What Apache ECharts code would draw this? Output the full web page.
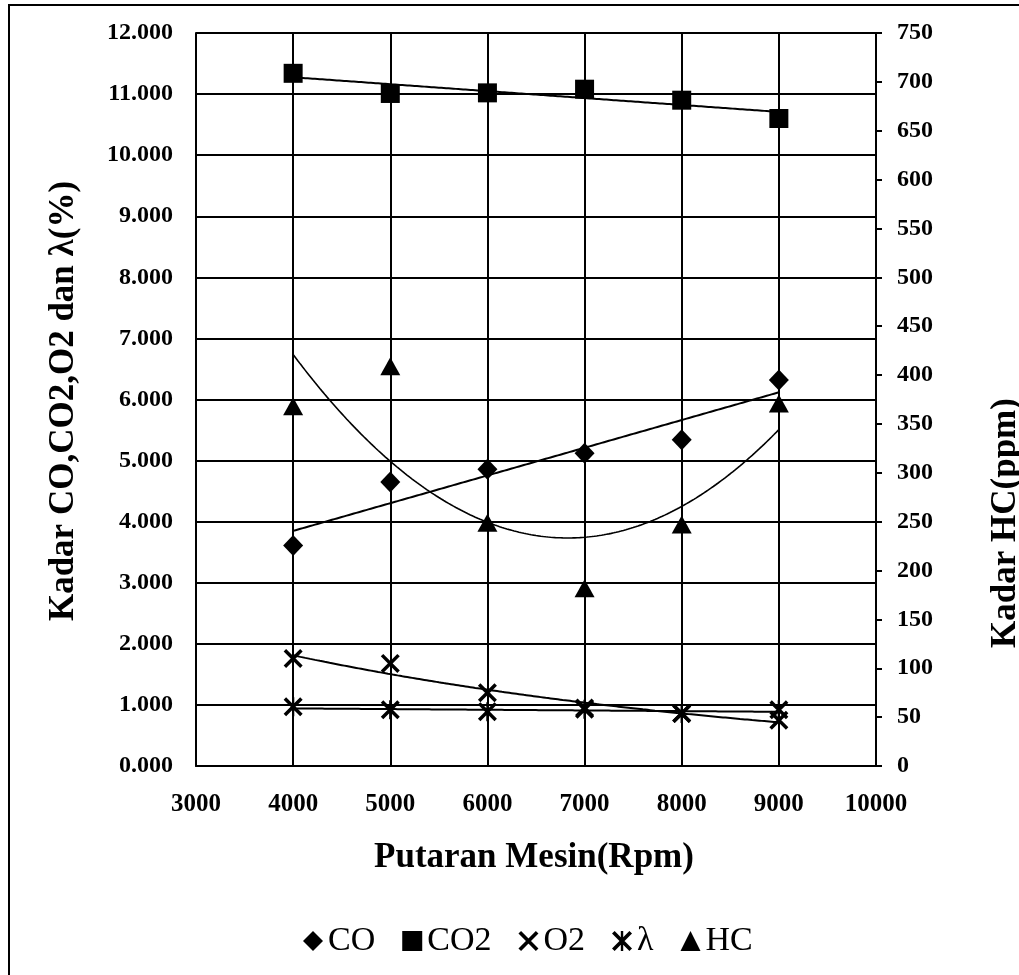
<!DOCTYPE html>
<html>
<head>
<meta charset="utf-8">
<script src="https://cdn.jsdelivr.net/npm/echarts@6/dist/echarts.min.js"></script>
<style>
  html, body { margin: 0; padding: 0; background: #fff; }
  #chart { width: 1019px; height: 975px; }
</style>
</head>
<body>
<div id="chart"></div>
<script>
// ---- data ----
const rpm = [4000, 5000, 6000, 7000, 8000, 9000];
const coValues = [3.61, 4.65, 4.86, 5.12, 5.34, 6.32];
const co2Values = [11.34, 11.01, 11.02, 11.08, 10.90, 10.60];
const o2Values = [1.76, 1.68, 1.20, 0.95, 0.86, 0.75];
const lambdaValues = [0.97, 0.92, 0.89, 0.93, 0.86, 0.92];
const hcValues = [368, 409, 249, 182, 247, 371];

const seriesNames = ['CO', 'CO2', 'O2', 'λ', 'HC'];
const xRange = [3000, 10000, 1000];
const leftRange = [0, 12, 1];
const rightRange = [0, 750, 50];
const xTitle = 'Putaran Mesin(Rpm)';
const leftTitle = 'Kadar CO,CO2,O2 dan λ(%)';
const rightTitle = 'Kadar HC(ppm)';

// ---- Excel-style trendlines, fitted to the data above ----
function linFit(xs, ys) {
  const n = xs.length;
  const mx = xs.reduce((a, b) => a + b, 0) / n;
  const my = ys.reduce((a, b) => a + b, 0) / n;
  let sxy = 0, sxx = 0;
  for (let i = 0; i < n; i++) { sxy += (xs[i] - mx) * (ys[i] - my); sxx += (xs[i] - mx) * (xs[i] - mx); }
  const s = sxy / sxx;
  return x => my + s * (x - mx);
}
function expFit(xs, ys) {
  const f = linFit(xs, ys.map(Math.log));
  return x => Math.exp(f(x));
}
function quadFit(xs, ys) {
  const n = xs.length;
  const mx = xs.reduce((a, b) => a + b, 0) / n;
  const t = xs.map(x => (x - mx) / 1000);
  const S = k => t.reduce((a, v) => a + Math.pow(v, k), 0);
  const T = k => t.reduce((a, v, i) => a + Math.pow(v, k) * ys[i], 0);
  const A = [[n, S(1), S(2), T(0)], [S(1), S(2), S(3), T(1)], [S(2), S(3), S(4), T(2)]];
  for (let c = 0; c < 3; c++) {
    for (let r = c + 1; r < 3; r++) {
      const f = A[r][c] / A[c][c];
      for (let k = c; k < 4; k++) A[r][k] -= f * A[c][k];
    }
  }
  const coef = [0, 0, 0];
  for (let r = 2; r >= 0; r--) {
    let s = A[r][3];
    for (let k = r + 1; k < 3; k++) s -= A[r][k] * coef[k];
    coef[r] = s / A[r][r];
  }
  return x => { const u = (x - mx) / 1000; return coef[0] + coef[1] * u + coef[2] * u * u; };
}
function sampleFn(fn) {
  const out = [];
  const x0 = rpm[0], x1 = rpm[rpm.length - 1];
  for (let x = x0; x <= x1 + 1e-9; x += 25) out.push([x, fn(x)]);
  return out;
}
const pair = ys => rpm.map((x, i) => [x, ys[i]]);

const xPath = 'path://M0,1.3L1.3,0L10,8.7L8.7,10Z M8.7,0L10,1.3L1.3,10L0,8.7Z';
const starPath = 'path://M0,1.3L1.3,0L10,8.7L8.7,10Z M8.7,0L10,1.3L1.3,10L0,8.7Z M4.4,0L5.6,0L5.6,10L4.4,10Z';

const FONT = '"Liberation Serif", "Times New Roman", serif';
const black = '#000';

const chart = echarts.init(document.getElementById('chart'), null, { renderer: 'canvas' });

const trendStyle = (w) => ({ color: black, width: w });

chart.setOption({
  animation: false,
  backgroundColor: '#fff',
  grid: { left: 196, right: 143, top: 33, bottom: 209, containLabel: false },
  xAxis: {
    type: 'value', min: xRange[0], max: xRange[1], interval: xRange[2],
    axisLine: { show: true, lineStyle: { color: black, width: 2 } },
    axisTick: { show: false },
    splitLine: { show: true, lineStyle: { color: black, width: 2 } },
    axisLabel: { color: black, fontFamily: FONT, fontWeight: 'bold', fontSize: 25, margin: 26,
      formatter: v => String(v) }
  },
  yAxis: [
    {
      type: 'value', min: leftRange[0], max: leftRange[1], interval: leftRange[2],
      axisLine: { show: true, lineStyle: { color: black, width: 2 } },
      axisTick: { show: false },
      splitLine: { show: true, lineStyle: { color: black, width: 2 } },
      axisLabel: { color: black, fontFamily: FONT, fontWeight: 'bold', fontSize: 24, margin: 23,
        formatter: v => v.toFixed(3) }
    },
    {
      type: 'value', position: 'right', min: rightRange[0], max: rightRange[1], interval: rightRange[2],
      axisLine: { show: true, lineStyle: { color: black, width: 2 } },
      axisTick: { show: true, inside: false, length: 6, lineStyle: { color: black, width: 2 } },
      splitLine: { show: false },
      axisLabel: { color: black, fontFamily: FONT, fontWeight: 'bold', fontSize: 24, margin: 21 }
    }
  ],
  legend: {
    data: [
      { name: seriesNames[0], icon: 'diamond' },
      { name: seriesNames[1], icon: 'rect' },
      { name: seriesNames[2], icon: xPath },
      { name: seriesNames[3], icon: starPath },
      { name: seriesNames[4], icon: 'triangle' }
    ],
    left: 298, top: 919, orient: 'horizontal',
    itemWidth: 20, itemHeight: 20, itemGap: 27,
    textStyle: { color: black, fontFamily: FONT, fontSize: 34 },
    selectedMode: false
  },
  graphic: [
    { type: 'rect', shape: { x: 9, y: 5, width: 1200, height: 1200 },
      style: { fill: 'none', stroke: black, lineWidth: 2 }, silent: true },
    { type: 'text', x: 534, y: 858,
      style: { text: xTitle, fill: black, fontFamily: FONT, fontWeight: 'bold', fontSize: 35,
        align: 'center', verticalAlign: 'middle' } },
    { type: 'text', x: 64, y: 401, rotation: Math.PI / 2,
      style: { text: leftTitle, fill: black, fontFamily: FONT, fontWeight: 'bold', fontSize: 35,
        align: 'center', verticalAlign: 'middle' } },
    { type: 'text', x: 1006, y: 523, rotation: Math.PI / 2,
      style: { text: rightTitle, fill: black, fontFamily: FONT, fontWeight: 'bold', fontSize: 35,
        align: 'center', verticalAlign: 'middle' } }
  ],
  series: [
    // trendlines
    { name: 'CO trend', type: 'line', data: sampleFn(linFit(rpm, coValues)), showSymbol: false,
      lineStyle: trendStyle(2), z: 2, silent: true },
    { name: 'CO2 trend', type: 'line', data: sampleFn(linFit(rpm, co2Values)), showSymbol: false,
      lineStyle: trendStyle(2), z: 2, silent: true },
    { name: 'O2 trend', type: 'line', data: sampleFn(expFit(rpm, o2Values)), showSymbol: false,
      lineStyle: trendStyle(2), z: 2, silent: true },
    { name: 'λ trend', type: 'line', data: sampleFn(linFit(rpm, lambdaValues)), showSymbol: false,
      lineStyle: trendStyle(2), z: 2, silent: true },
    { name: 'HC trend', type: 'line', yAxisIndex: 1, data: sampleFn(quadFit(rpm, hcValues)), showSymbol: false,
      smooth: false, lineStyle: trendStyle(1.6), z: 2, silent: true },
    // markers
    { name: seriesNames[0], type: 'scatter', data: pair(coValues), symbol: 'diamond', symbolSize: [20, 21],
      itemStyle: { color: black, opacity: 1 }, z: 4 },
    { name: seriesNames[1], type: 'scatter', data: pair(co2Values), symbol: 'rect', symbolSize: [19, 19],
      itemStyle: { color: black, opacity: 1 }, z: 4 },
    { name: seriesNames[2], type: 'scatter', data: pair(o2Values), symbol: xPath, symbolSize: [19, 19],
      itemStyle: { color: black, opacity: 1 }, z: 4 },
    { name: seriesNames[3], type: 'scatter', data: pair(lambdaValues), symbol: starPath, symbolSize: [19, 19],
      itemStyle: { color: black, opacity: 1 }, z: 4 },
    { name: seriesNames[4], type: 'scatter', yAxisIndex: 1, data: pair(hcValues), symbol: 'triangle', symbolSize: [20, 18],
      itemStyle: { color: black, opacity: 1 }, z: 4 }
  ]
});
</script>
</body>
</html>
